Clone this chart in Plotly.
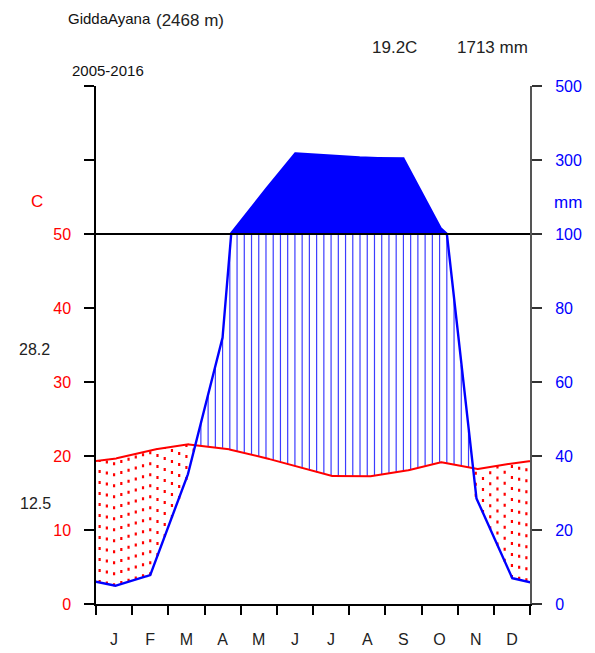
import numpy as np
import plotly.graph_objects as go

# ---------------- data ----------------
station = "GiddaAyana"
altitude = "(2468 m)"
period = "2005-2016"
months = ['J', 'F', 'M', 'A', 'M', 'J', 'J', 'A', 'S', 'O', 'N', 'D']
temp = [19.6, 20.8, 21.6, 21.1, 20.0, 18.6, 17.3, 17.2, 17.9, 19.2, 18.2, 19.0]   # deg C
prec = [4.8, 7.8, 33.5, 72, 197, 318, 313, 305, 304, 118, 29, 7]                 # mm
mean_temp_label = "19.2C"
total_prec_label = "1713 mm"
max_warm_label = "28.2"
min_cold_label = "12.5"
left_tick_vals = [0, 10, 20, 30, 40, 50, 60, 70]
left_tick_text = ['0', '10', '20', '30', '40', '50', '', '']
right_tick_mm = [0, 20, 40, 60, 80, 100, 300, 500]

# ---------------- scale helpers ----------------
def disp(p):
    p = np.asarray(p, dtype=float)
    return np.where(p <= 100, p / 2.0, 50 + (p - 100) / 20.0)

xs = np.arange(14) - 0.5
t_ext = np.array([temp[-1]] + temp + [temp[0]])
p_ext = np.array([prec[-1]] + prec + [prec[0]])

xf = np.linspace(-0.5, 12.5, 1301)
tf = np.interp(xf, xs, t_ext)
pf = np.interp(xf, xs, p_ext)
pdf = disp(pf)

xg = np.linspace(-0.5, 12.5, 66)
tg = np.interp(xg, xs, t_ext)
pg = np.interp(xg, xs, p_ext)
pdg = disp(pg)

hx, hy, dx, dy = [], [], [], []
for x, t, pd in zip(xg, tg, pdg):
    if x < 0 or x > 12:
        continue
    if pd > t:
        hx += [x, x, None]
        hy += [t, min(pd, 50), None]
    elif pd < t:
        dx += [x, x, None]
        dy += [pd, t, None]

BLUE = '#0000FF'
RED = '#FF0000'
TXT = "Liberation Sans, Arial, sans-serif"

fig = go.Figure()
# super-humid fill
fig.add_trace(go.Scatter(x=xf, y=np.full_like(xf, 50.0), mode='lines',
                         line=dict(width=0, color=BLUE), hoverinfo='skip', showlegend=False))
fig.add_trace(go.Scatter(x=xf, y=np.maximum(pdf, 50.0), mode='lines', fill='tonexty',
                         fillcolor=BLUE, line=dict(width=0, color=BLUE),
                         hoverinfo='skip', showlegend=False))
# humid period vertical lines
fig.add_trace(go.Scatter(x=hx, y=hy, mode='lines', line=dict(color='rgb(60,60,255)', width=1.2),
                         hoverinfo='skip', showlegend=False))
# dry period dotted lines
fig.add_trace(go.Scatter(x=dx, y=dy, mode='lines', line=dict(color=RED, width=2.2, dash='3px,8px'),
                         hoverinfo='skip', showlegend=False))
# temperature line
fig.add_trace(go.Scatter(x=xf, y=tf, mode='lines', line=dict(color=RED, width=2),
                         hoverinfo='skip', showlegend=False))
# precipitation line
fig.add_trace(go.Scatter(x=xf, y=pdf, mode='lines', line=dict(color=BLUE, width=2.4),
                         hoverinfo='skip', showlegend=False))
# dummy for right axis
fig.add_trace(go.Scatter(x=[0], y=[0], yaxis='y2', mode='markers', marker=dict(opacity=0),
                         hoverinfo='skip', showlegend=False))

fig.add_shape(type='line', x0=0, x1=12, y0=50, y1=50, xref='x', yref='y',
              line=dict(color='black', width=2), layer='above')

# page offset of the figure (body margin)
OFF = 8
W, H = 595, 653
PL, PR, PT, PB = 96, 530, 86, 604          # plot area in page pixels
L = PL - OFF
T = PT - OFF
R = W - (PR - OFF)
B = H - (PB - OFF)
PW, PH = PR - PL, PB - PT

def px(x):
    return (x - PL) / PW

def py(y):
    return (PB - y) / PH

def ann(text, x, y, size, color='#222', xanchor='left'):
    fig.add_annotation(text=text, x=px(x), y=py(y), xref='paper', yref='paper',
                       xanchor=xanchor, yanchor='middle', showarrow=False,
                       font=dict(size=size, color=color, family=TXT))

ann(station, 66, 19, 15, color='#111')
ann(altitude, 154, 21, 17)
ann(period, 70, 70, 15, color='#111')
ann(mean_temp_label, 370, 48, 17)
ann(total_prec_label, 455, 48, 17)
ann(max_warm_label, 17, 349, 16)
ann(min_cold_label, 18, 503, 16)
ann('C', 37, 201, 17, color=RED, xanchor='center')
ann('mm', 552, 202, 17, color=BLUE)

fig.update_layout(
    width=W, height=H, margin=dict(l=L, r=R, t=T, b=B),
    paper_bgcolor='white', plot_bgcolor='white',
    xaxis=dict(range=[0, 12], showgrid=False, zeroline=False,
               showline=True, linecolor='black', linewidth=2,
               tickvals=[i + 0.5 for i in range(12)], ticktext=months,
               ticks='', tickfont=dict(size=16, color='#222', family=TXT),
               ticklabelstandoff=20,
               minor=dict(tick0=0, dtick=1, ticks='outside', ticklen=9,
                          tickwidth=1.5, tickcolor='black', showgrid=False)),
    yaxis=dict(range=[0, 70], showgrid=False, zeroline=False,
               showline=True, linecolor='black', linewidth=1.5,
               tickvals=left_tick_vals, ticktext=left_tick_text,
               ticks='outside', ticklen=10, tickwidth=1.5, tickcolor='black',
               tickfont=dict(size=16, color=RED, family=TXT), ticklabelstandoff=10),
    yaxis2=dict(range=[0, 70], overlaying='y', side='right', showgrid=False, zeroline=False,
                showline=True, linecolor='#555', linewidth=2,
                tickvals=[float(v) for v in disp(right_tick_mm)],
                ticktext=[str(v) for v in right_tick_mm],
                ticks='outside', ticklen=10, tickwidth=1.5, tickcolor='#333',
                tickfont=dict(size=16, color=BLUE, family=TXT), ticklabelstandoff=10),
)

fig.write_html("out.html")
